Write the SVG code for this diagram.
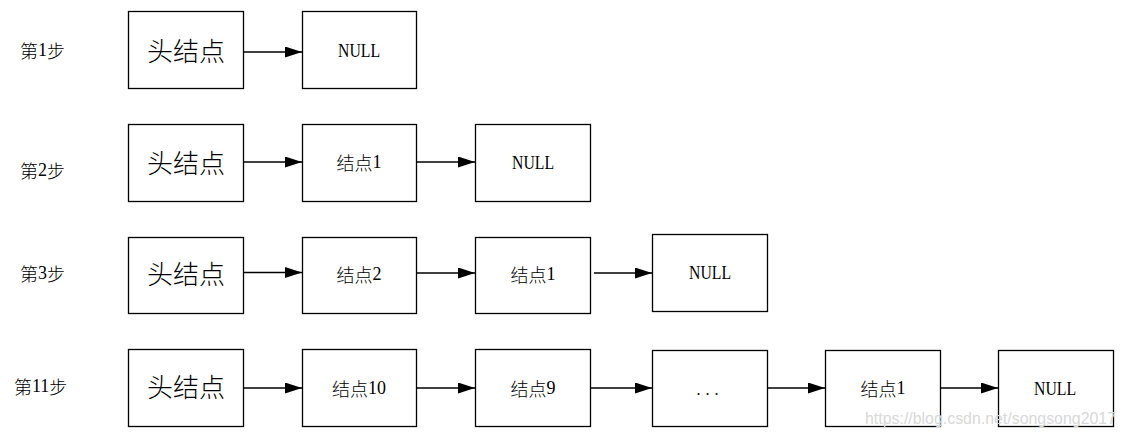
<svg xmlns="http://www.w3.org/2000/svg" width="1127" height="440" viewBox="0 0 1127 440">
<style>
.box{fill:#fff;stroke:#000;stroke-width:1.3}
.lbl{font-family:"Liberation Serif","Noto Sans CJK SC",serif;font-size:16px;fill:#000;text-anchor:middle;dominant-baseline:central}
.nl{font-size:19px}
.nd{font-size:18px}
.head{font-family:"Noto Sans CJK SC",sans-serif;font-size:26px;font-weight:300;fill:#000;text-anchor:middle;dominant-baseline:central}
.step{font-family:"Liberation Serif","Noto Sans CJK SC",serif;font-size:18px;fill:#000;dominant-baseline:central}
.cjk{font-family:"Noto Sans CJK SC",sans-serif;font-weight:300}
.conn line{stroke:#000;stroke-width:1.3;marker-end:url(#arr)}
.wm{font-family:"Liberation Sans",sans-serif;font-size:16px;fill:#d8d8d8}
</style>
<defs>
<marker id="arr" markerWidth="17" markerHeight="11" refX="17" refY="5.5" orient="auto" markerUnits="userSpaceOnUse">
<path d="M0,0 L17,5.5 L0,11 Z" fill="#000"/>
</marker>
</defs>
<rect width="1127" height="440" fill="#fff"/>
<g id="steps">
<text class="step" x="20" y="50"><tspan class="cjk">第</tspan>1<tspan class="cjk">步</tspan></text>
<text class="step" x="20" y="170"><tspan class="cjk">第</tspan>2<tspan class="cjk">步</tspan></text>
<text class="step" x="20" y="273"><tspan class="cjk">第</tspan>3<tspan class="cjk">步</tspan></text>
<text class="step" x="14" y="386"><tspan class="cjk">第</tspan>11<tspan class="cjk">步</tspan></text>
</g>
<g id="r1-head"><rect class="box" x="128.5" y="11.5" width="115" height="77"/><text class="head" x="186" y="49">头结点</text></g>
<g id="r1-null"><rect class="box" x="302.5" y="11.5" width="114" height="77"/><text class="lbl nl" x="359" y="50" textLength="42" lengthAdjust="spacingAndGlyphs">NULL</text></g>
<g id="r2-head"><rect class="box" x="128.5" y="124.5" width="115" height="77"/><text class="head" x="186" y="161">头结点</text></g>
<g id="r2-n1"><rect class="box" x="302.5" y="124.5" width="114" height="77"/><text class="lbl nd" x="359" y="162"><tspan class="cjk">结点</tspan>1</text></g>
<g id="r2-null"><rect class="box" x="475.5" y="124.5" width="115" height="77"/><text class="lbl nl" x="533" y="162" textLength="42" lengthAdjust="spacingAndGlyphs">NULL</text></g>
<g id="r3-head"><rect class="box" x="128.5" y="237.5" width="115" height="76"/><text class="head" x="186" y="272">头结点</text></g>
<g id="r3-n2"><rect class="box" x="302.5" y="237.5" width="114" height="76"/><text class="lbl nd" x="359" y="274"><tspan class="cjk">结点</tspan>2</text></g>
<g id="r3-n1"><rect class="box" x="475.5" y="237.5" width="115" height="76"/><text class="lbl nd" x="533" y="274"><tspan class="cjk">结点</tspan>1</text></g>
<g id="r3-null"><rect class="box" x="652.5" y="234.5" width="115" height="77"/><text class="lbl nl" x="710" y="272" textLength="42" lengthAdjust="spacingAndGlyphs">NULL</text></g>
<g id="r4-head"><rect class="box" x="128.5" y="349.5" width="115" height="77"/><text class="head" x="186" y="385">头结点</text></g>
<g id="r4-n10"><rect class="box" x="302.5" y="349.5" width="114" height="77"/><text class="lbl nd" x="359" y="388"><tspan class="cjk">结点</tspan>10</text></g>
<g id="r4-n9"><rect class="box" x="475.5" y="349.5" width="115" height="77"/><text class="lbl nd" x="533" y="388"><tspan class="cjk">结点</tspan>9</text></g>
<g id="r4-dots"><rect class="box" x="652.5" y="350.5" width="115" height="76"/><text class="lbl" x="710" y="389" letter-spacing="5">...</text></g>
<g id="r4-n1"><rect class="box" x="825.5" y="350.5" width="115" height="76"/><text class="lbl nd" x="883" y="388"><tspan class="cjk">结点</tspan>1</text></g>
<g id="r4-null"><rect class="box" x="998.5" y="350.5" width="115" height="76"/><text class="lbl nl" x="1055" y="388" textLength="42" lengthAdjust="spacingAndGlyphs">NULL</text></g>
<g id="connectors" class="conn">
<line x1="243.5" y1="52" x2="302" y2="52"/>
<line x1="243.5" y1="162" x2="302" y2="162"/>
<line x1="416.5" y1="162" x2="475" y2="162"/>
<line x1="243.5" y1="272.5" x2="302" y2="272.5"/>
<line x1="416.5" y1="273" x2="475" y2="273"/>
<line x1="594" y1="273" x2="652" y2="273"/>
<line x1="243.5" y1="388" x2="302" y2="388"/>
<line x1="416.5" y1="388" x2="475" y2="388"/>
<line x1="590.5" y1="388" x2="652" y2="388"/>
<line x1="767.5" y1="388" x2="825" y2="388"/>
<line x1="940.5" y1="388" x2="998" y2="388"/>
</g>
<text class="wm" x="865" y="424" textLength="251" lengthAdjust="spacingAndGlyphs">https://blog.csdn.net/songsong2017</text>
</svg>
